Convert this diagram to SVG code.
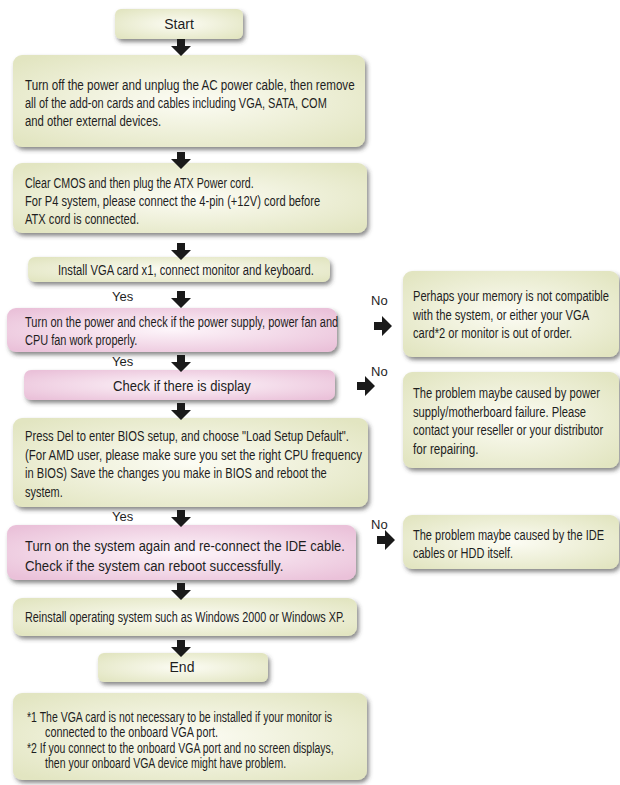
<svg xmlns="http://www.w3.org/2000/svg" xmlns:xlink="http://www.w3.org/1999/xlink" width="620" height="785" viewBox="0 0 620 785">
<style>
  .t { font-family: "Liberation Sans", Arial, sans-serif; font-size: 14px; fill: #1e1e1e; }
  .tl { font-family: "Liberation Sans", Arial, sans-serif; font-size: 15px; fill: #1e1e1e; }
  .lbl { font-family: "Liberation Sans", Arial, sans-serif; font-size: 13px; fill: #1e1e1e; }
  .g { fill: url(#gGreen); filter: url(#sh); }
  .p { fill: url(#gPink); filter: url(#sh); }
  .arr { fill: #1a1a1a; }
</style>
<defs>
  <radialGradient id="gGreen" cx="50%" cy="50%" r="65%">
    <stop offset="0" stop-color="#fcfcf4"/>
    <stop offset="1" stop-color="#e2e5c1"/>
  </radialGradient>
  <radialGradient id="gPink" cx="50%" cy="50%" r="65%">
    <stop offset="0" stop-color="#fdf5fa"/>
    <stop offset="1" stop-color="#eac1d9"/>
  </radialGradient>
  <filter id="sh" x="-10%" y="-20%" width="125%" height="150%">
    <feDropShadow dx="2" dy="3" stdDeviation="2" flood-color="#3a3a3a" flood-opacity="0.6"/>
  </filter>
  <path id="down" d="M-4,0 H4 V7 H10 L0,17 L-10,7 H-4 Z"/>
  <path id="right" d="M0,-4 H8 V-10 L18,0 L8,10 V4 H0 Z"/>
</defs>
<rect width="620" height="785" fill="#ffffff"/>

<g id="start">
  <rect class="g" x="115" y="9" width="128" height="30" rx="6"/>
  <text class="t" x="179" y="29" text-anchor="middle">Start</text>
</g>
<g id="poweroff">
  <rect class="g" x="13" y="55" width="352" height="92" rx="9"/>
  <g transform="translate(25,0) scale(0.82,1)">
    <text class="t" x="0" y="90" textLength="402" lengthAdjust="spacingAndGlyphs">Turn off the power and unplug the AC power cable, then remove</text>
    <text class="t" x="0" y="108" textLength="368" lengthAdjust="spacingAndGlyphs">all of the add-on cards and cables including VGA, SATA, COM</text>
    <text class="t" x="0" y="126" textLength="166" lengthAdjust="spacingAndGlyphs">and other external devices.</text>
  </g>
</g>
<g id="clearcmos">
  <rect class="g" x="13" y="163" width="354" height="70" rx="9"/>
  <g transform="translate(25,0) scale(0.82,1)">
    <text class="t" x="0" y="188" textLength="279" lengthAdjust="spacingAndGlyphs">Clear CMOS and then plug the ATX Power cord.</text>
    <text class="t" x="0" y="206" textLength="360" lengthAdjust="spacingAndGlyphs">For P4 system, please connect the 4-pin (+12V) cord before</text>
    <text class="t" x="0" y="224" textLength="139" lengthAdjust="spacingAndGlyphs">ATX cord is connected.</text>
  </g>
</g>
<g id="installvga">
  <rect class="g" x="28" y="257" width="302" height="25" rx="7"/>
  <g transform="translate(58,0) scale(0.82,1)">
    <text class="t" x="0" y="275" textLength="312" lengthAdjust="spacingAndGlyphs">Install VGA card x1, connect monitor and keyboard.</text>
  </g>
</g>
<g id="checkpower">
  <rect class="p" x="7" y="308" width="330" height="44" rx="9"/>
  <g transform="translate(25,0) scale(0.82,1)">
    <text class="t" x="0" y="327" textLength="382" lengthAdjust="spacingAndGlyphs">Turn on the power and check if the power supply, power fan and</text>
    <text class="t" x="0" y="345" textLength="137" lengthAdjust="spacingAndGlyphs">CPU fan work properly.</text>
  </g>
</g>
<g id="checkdisplay">
  <rect class="p" x="24" y="370" width="311" height="30" rx="7"/>
  <g transform="translate(182,0) scale(0.82,1)">
    <text class="tl" x="0" y="391" text-anchor="middle" textLength="168" lengthAdjust="spacingAndGlyphs">Check if there is display</text>
  </g>
</g>
<g id="memory">
  <rect class="g" x="403" y="271" width="216" height="86" rx="9"/>
  <g transform="translate(413,0) scale(0.82,1)">
    <text class="t" x="0" y="301" textLength="239" lengthAdjust="spacingAndGlyphs">Perhaps your memory is not compatible</text>
    <text class="t" x="0" y="320" textLength="215" lengthAdjust="spacingAndGlyphs">with the system, or either your VGA</text>
    <text class="t" x="0" y="338" textLength="194" lengthAdjust="spacingAndGlyphs">card*2 or monitor is out of order.</text>
  </g>
</g>
<g id="powerfail">
  <rect class="g" x="403" y="372" width="216" height="96" rx="9"/>
  <g transform="translate(413,0) scale(0.82,1)">
    <text class="t" x="0" y="398" textLength="228" lengthAdjust="spacingAndGlyphs">The problem maybe caused by power</text>
    <text class="t" x="0" y="417" textLength="211" lengthAdjust="spacingAndGlyphs">supply/motherboard failure. Please</text>
    <text class="t" x="0" y="435" textLength="232" lengthAdjust="spacingAndGlyphs">contact your reseller or your distributor</text>
    <text class="t" x="0" y="454" textLength="80" lengthAdjust="spacingAndGlyphs">for repairing.</text>
  </g>
</g>
<g id="bios">
  <rect class="g" x="13" y="418" width="355" height="89" rx="9"/>
  <g transform="translate(25,0) scale(0.82,1)">
    <text class="t" x="0" y="441" textLength="395" lengthAdjust="spacingAndGlyphs">Press Del to enter BIOS setup, and choose "Load Setup Default".</text>
    <text class="t" x="0" y="460" textLength="411" lengthAdjust="spacingAndGlyphs">(For AMD user, please make sure you set the right CPU frequency</text>
    <text class="t" x="0" y="478" textLength="368" lengthAdjust="spacingAndGlyphs">in BIOS) Save the changes you make in BIOS and reboot the</text>
    <text class="t" x="0" y="497" textLength="46" lengthAdjust="spacingAndGlyphs">system.</text>
  </g>
</g>
<g id="reboot">
  <rect class="p" x="7" y="525" width="349" height="55" rx="9"/>
  <g transform="translate(25,0) scale(0.82,1)">
    <text class="tl" x="0" y="551" textLength="390" lengthAdjust="spacingAndGlyphs">Turn on the system again and re-connect the IDE cable.</text>
    <text class="tl" x="0" y="571" textLength="315" lengthAdjust="spacingAndGlyphs">Check if the system can reboot successfully.</text>
  </g>
</g>
<g id="ide">
  <rect class="g" x="403" y="515" width="216" height="54" rx="9"/>
  <g transform="translate(413,0) scale(0.82,1)">
    <text class="t" x="0" y="540" textLength="233" lengthAdjust="spacingAndGlyphs">The problem maybe caused by the IDE</text>
    <text class="t" x="0" y="558" textLength="122" lengthAdjust="spacingAndGlyphs">cables or HDD itself.</text>
  </g>
</g>
<g id="reinstall">
  <rect class="g" x="13" y="598" width="344" height="38" rx="9"/>
  <g transform="translate(25,0) scale(0.82,1)">
    <text class="t" x="0" y="622" textLength="390" lengthAdjust="spacingAndGlyphs">Reinstall operating system such as Windows 2000 or Windows XP.</text>
  </g>
</g>
<g id="end">
  <rect class="g" x="98" y="653" width="170" height="29" rx="6"/>
  <text class="t" x="182" y="672" text-anchor="middle">End</text>
</g>
<g id="notes">
  <rect class="g" x="13" y="693" width="354" height="87" rx="9"/>
  <g transform="translate(27,0) scale(0.82,1)">
    <text class="t" x="0" y="722" textLength="372" lengthAdjust="spacingAndGlyphs">*1 The VGA card is not necessary to be installed if your monitor is</text>
    <text class="t" x="22" y="737" textLength="211" lengthAdjust="spacingAndGlyphs">connected to the onboard VGA port.</text>
    <text class="t" x="0" y="753" textLength="374" lengthAdjust="spacingAndGlyphs">*2 If you connect to the onboard VGA port and no screen displays,</text>
    <text class="t" x="22" y="768" textLength="294" lengthAdjust="spacingAndGlyphs">then your onboard VGA device might have problem.</text>
  </g>
</g>

<g id="connectors" class="arr">
  <use xlink:href="#down" x="181" y="39"/>
  <use xlink:href="#down" x="181" y="152"/>
  <use xlink:href="#down" x="181" y="243"/>
  <use xlink:href="#down" x="181" y="291"/>
  <use xlink:href="#down" x="181" y="355"/>
  <use xlink:href="#down" x="181" y="403"/>
  <use xlink:href="#down" x="181" y="510"/>
  <use xlink:href="#down" x="181" y="583"/>
  <use xlink:href="#down" x="181" y="640"/>
  <use xlink:href="#right" x="374" y="326"/>
  <use xlink:href="#right" x="357" y="386"/>
  <use xlink:href="#right" x="377" y="540"/>
  <text class="lbl" x="112" y="301">Yes</text>
  <text class="lbl" x="112" y="366">Yes</text>
  <text class="lbl" x="112" y="521">Yes</text>
  <text class="lbl" x="371" y="305">No</text>
  <text class="lbl" x="371" y="376">No</text>
  <text class="lbl" x="371" y="529">No</text>
</g>
</svg>
